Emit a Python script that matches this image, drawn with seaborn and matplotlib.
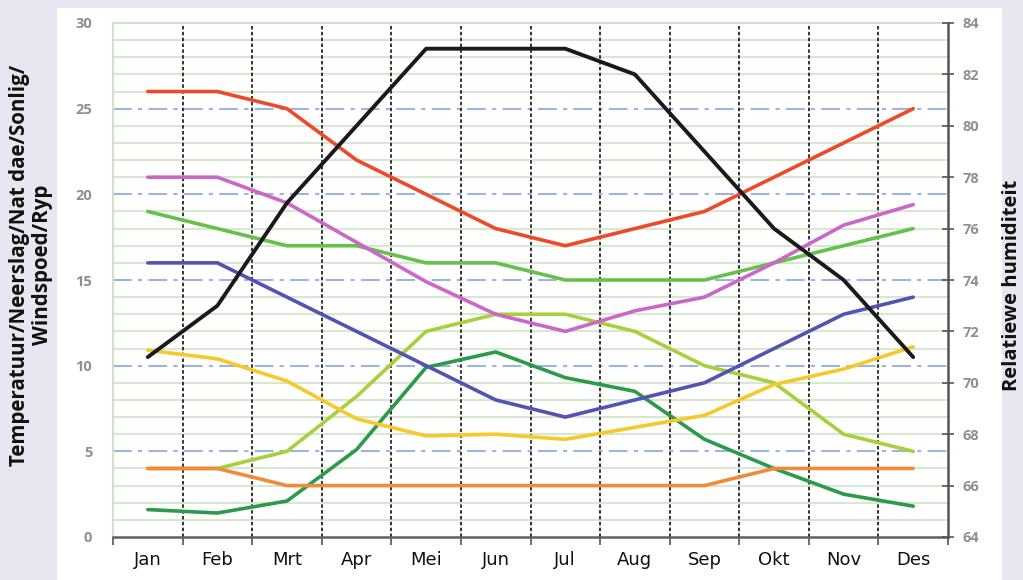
import matplotlib
matplotlib.use("Agg")
import matplotlib.pyplot as plt
import seaborn as sns
import pandas as pd
from matplotlib.patches import Rectangle

# data
maande = ["Jan", "Feb", "Mrt", "Apr", "Mei", "Jun", "Jul", "Aug", "Sep", "Okt", "Nov", "Des"]
rooi = [26, 26, 25, 22, 20, 18, 17, 18, 19, 21, 23, 25]
pienk = [21, 21, 19.5, 17.2, 14.9, 13, 12, 13.2, 14, 16, 18.2, 19.4]
groen = [19, 18, 17, 17, 16, 16, 15, 15, 15, 16, 17, 18]
blou = [16, 16, 14, 12, 10, 8, 7, 8, 9, 11, 13, 14]
geel = [10.9, 10.4, 9.1, 6.9, 5.9, 6, 5.7, 6.4, 7.1, 8.9, 9.8, 11.1]
liggroen = [4, 4, 5, 8.2, 12, 13, 13, 12, 10, 9, 6, 5]
donkergroen = [1.6, 1.4, 2.1, 5.1, 9.9, 10.8, 9.3, 8.5, 5.7, 4, 2.5, 1.8]
oranje = [4, 4, 3, 3, 3, 3, 3, 3, 3, 4, 4, 4]
humiditeit = [71, 73, 77, 80, 83, 83, 83, 82, 79, 76, 74, 71]

links_ticks = [0, 5, 10, 15, 20, 25, 30]
regs_ticks = [64, 66, 68, 70, 72, 74, 76, 78, 80, 82, 84]

reekse = [
    (liggroen, "#a8cf3c"),
    (donkergroen, "#2b9a4a"),
    (oranje, "#f28a3c"),
    (geel, "#f5c92a"),
    (blou, "#5353b3"),
    (groen, "#66c04c"),
    (pienk, "#cc66c8"),
    (rooi, "#ee4a2a"),
]

sns.set_theme(style="white")
plt.rcParams['font.family'] = ['Open Sans', 'DejaVu Sans']

W, H = 1023, 580
fig = plt.figure(figsize=(W / 100, H / 100), dpi=100, facecolor="#e8e7f1")
# wit paneel
fig.patches.append(Rectangle((57 / W, 0), (1002 - 57) / W, 1 - 8 / H,
                             transform=fig.transFigure, facecolor="white",
                             edgecolor="none", zorder=-10))

ax = fig.add_axes([113 / W, 1 - 537 / H, (948 - 113) / W, (537 - 23) / H])
ax.set_facecolor("none")

x = list(range(len(maande)))

# horisontale ruitlyne
for v in range(1, 30):
    if v % 5 == 0:
        ax.axhline(v, color="#9db4dc", lw=1.5, ls=(0, (9, 3, 2, 3)), zorder=1)
    else:
        ax.axhline(v, color="#d6e8d0", lw=1.5, zorder=0.5)
# vertikale stippellyne
for b in range(len(maande) - 1):
    ax.axvline(b + 0.5, color="#333333", lw=1.4, ls=(0, (1.8, 1.2)), zorder=1.2)

for data, kleur in reekse:
    sns.lineplot(x=x, y=data, ax=ax, color=kleur, lw=2.6, zorder=3)

ax.set_xlim(-0.5, 11.5)
ax.set_ylim(0, 30)
ax.set_xticks(x)
ax.set_xticklabels(maande, family=['Liberation Sans Narrow', 'DejaVu Sans'],
                   fontsize=13, color="#111111")
ax.set_xticks([i - 0.5 for i in range(len(maande) + 1)], minor=True)
ax.tick_params(axis="x", which="major", length=0, pad=10)
ax.tick_params(axis="x", which="minor", length=6, width=1.2, color="#555555",
               direction="out", bottom=True)
ax.set_yticks(links_ticks)
ax.set_yticklabels([str(t) for t in links_ticks], fontsize=10.5, color="#8f8f8f",
                   fontweight="bold")
ax.tick_params(axis="y", length=0, pad=15)

for s in ["left", "top"]:
    ax.spines[s].set_color("#cfe3c8")
    ax.spines[s].set_linewidth(1.5)
ax.spines["bottom"].set_color("#5a6070")
ax.spines["bottom"].set_linewidth(1.8)
ax.spines["right"].set_visible(False)

ax2 = ax.twinx()
sns.lineplot(x=x, y=humiditeit, ax=ax2, color="#1a1a1a", lw=2.8, zorder=4)
ax2.set_ylim(64, 84)
ax2.set_yticks(regs_ticks)
ax2.set_yticklabels([str(t) for t in regs_ticks], fontsize=10.5, color="#8f8f8f",
                    fontweight="bold")
ax2.tick_params(axis="y", direction="inout", length=9, width=1.2, color="#555555", pad=6)
for s in ["left", "top", "bottom"]:
    ax2.spines[s].set_visible(False)
ax2.spines["right"].set_color("#555555")
ax2.spines["right"].set_linewidth(1.8)
ax2.set_ylabel("")

fig.text(31 / W, 1 - 265 / H, "Temperatuur/Neerslag/Nat dae/Sonlig/\nWindspoed/Ryp",
         rotation=90, ha="center", va="center", multialignment="center",
         fontsize=14.8, fontweight="bold", color="#111111", linespacing=1.15)
fig.text(1012 / W, 1 - 285 / H, "Relatiewe humiditeit", rotation=90,
         ha="center", va="center", fontsize=14.5, fontweight="bold", color="#111111")

fig.savefig("out.png", dpi=100, facecolor=fig.get_facecolor())
